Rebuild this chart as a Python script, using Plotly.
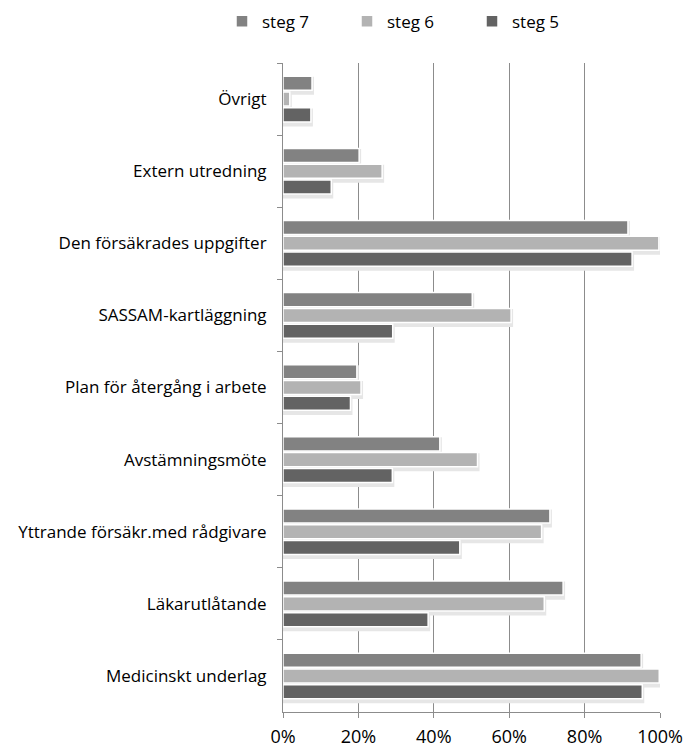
import plotly.graph_objects as go

categories = ["Övrigt", "Extern utredning", "Den försäkrades uppgifter", "SASSAM-kartläggning",
              "Plan för återgång i arbete", "Avstämningsmöte", "Yttrande försäkr.med rådgivare",
              "Läkarutlåtande", "Medicinskt underlag"]
steg7 = [7.7, 20.2, 91.5, 50.2, 19.6, 41.6, 70.8, 74.3, 95.0]
steg6 = [1.8, 26.3, 99.7, 60.5, 20.7, 51.6, 68.6, 69.3, 99.8]
steg5 = [7.4, 12.8, 92.6, 29.1, 17.9, 29.0, 46.9, 38.5, 95.3]
series_names = ["steg 7", "steg 6", "steg 5"]
tick_vals = [0, 20, 40, 60, 80, 100]
tick_text = ["0%", "20%", "40%", "60%", "80%", "100%"]

colors = ["#828282", "#b3b3b3", "#636363"]
series = [steg7, steg6, steg5]
bar_w = 0.195
offsets = [-0.316, -0.097, 0.122]

font = "'Open Sans', Lato, sans-serif"
fig = go.Figure()

# soft shadows
for vals, off in zip(series, offsets):
    fig.add_trace(go.Bar(
        y=categories, x=vals, orientation="h", width=bar_w, offset=off + 0.035,
        marker=dict(color="#d9d9d9", line=dict(color="#e6e6e6", width=4)),
        showlegend=False, hoverinfo="skip"))

for name, vals, col, off in zip(series_names, series, colors, offsets):
    fig.add_trace(go.Bar(
        y=categories, x=vals, orientation="h", name=name, width=bar_w, offset=off,
        marker=dict(color=col, line=dict(color="white", width=1.5))))

fig.update_layout(
    width=686, height=752,
    barmode="overlay",
    plot_bgcolor="white", paper_bgcolor="white",
    margin=dict(l=283, r=26, t=63, b=40, autoexpand=False),
    font=dict(family=font, size=17, color="#000000"),
    legend=dict(orientation="h", xref="container", yref="container",
                x=222 / 686, xanchor="left", y=0.971, yanchor="middle",
                font=dict(size=17), itemwidth=30, traceorder="normal",
                entrywidth=80, entrywidthmode="pixels"),
    xaxis=dict(range=[0, 100], tickvals=tick_vals, ticktext=tick_text,
               showgrid=True, gridcolor="#8c8c8c", gridwidth=1,
               showline=True, linecolor="#8c8c8c", linewidth=1,
               ticks="outside", ticklen=5, tickcolor="#8c8c8c",
               ticklabelstandoff=3, automargin=False,
               tickfont=dict(size=18), zeroline=False, fixedrange=True),
    yaxis=dict(categoryorder="array", categoryarray=categories, autorange="reversed",
               showline=True, linecolor="#8c8c8c", linewidth=1, automargin=False,
               ticks="outside", ticklen=5, tickcolor="#8c8c8c", tickson="boundaries",
               ticklabelstandoff=12, tickfont=dict(size=17), showgrid=False),
)

fig.write_html("out.html")
